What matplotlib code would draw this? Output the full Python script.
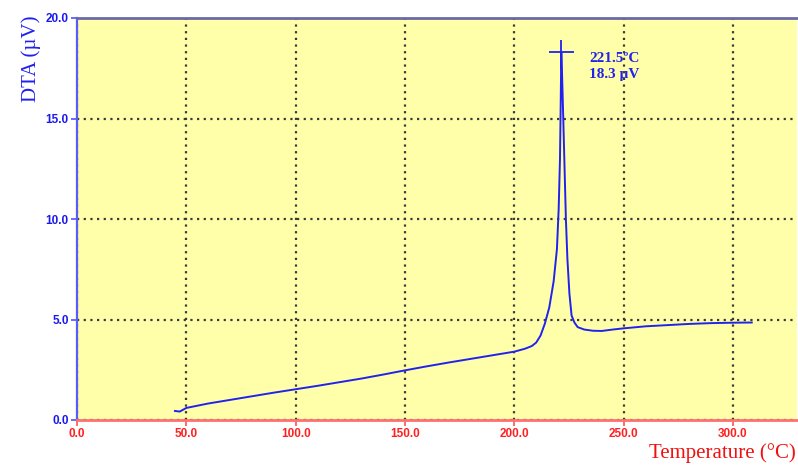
import matplotlib
matplotlib.use("Agg")
import matplotlib.pyplot as plt

# Data
temperature = [44.8, 47, 50, 60, 70, 80, 90, 100, 110, 120, 130, 140, 150, 160, 170, 180,
               190, 200, 205, 208, 210, 212, 214, 216, 218, 219.5, 220.3, 220.9, 221.2,
               221.5, 221.9, 222.4, 223, 223.6, 224.3, 225.2, 226.2, 227.5, 229, 232, 236,
               240, 245, 250, 260, 270, 280, 290, 300, 308.6]
dta = [0.45, 0.42, 0.6, 0.82, 1.0, 1.18, 1.36, 1.53, 1.7, 1.88, 2.06, 2.26, 2.47, 2.67, 2.86,
       3.04, 3.22, 3.4, 3.55, 3.68, 3.85, 4.2, 4.8, 5.6, 6.9, 8.5, 10.5, 13.0, 15.5,
       18.3, 17.0, 15.0, 12.5, 10.0, 8.0, 6.3, 5.2, 4.85, 4.62, 4.5, 4.44,
       4.43, 4.5, 4.56, 4.66, 4.72, 4.78, 4.82, 4.84, 4.85]
peak_t, peak_v = 221.5, 18.3
xticks = [0, 50, 100, 150, 200, 250, 300]
yticks = [0, 5, 10, 15, 20]

fig = plt.figure(figsize=(7.98, 4.66), dpi=100)
ax = fig.add_axes([77/798, 46/466, 720/798, 402/466])
ax.set_facecolor('#FFFFAA')

ax.plot(temperature, dta, color='#2222EE', lw=1.4, zorder=3)
ax.plot([peak_t], [peak_v], marker='+', markersize=18, mew=1.3, color='#2222EE', zorder=4)
ax.text(peak_t + 12.8, peak_v + 0.0, f"{peak_t:.1f}ºC\n{peak_v:.1f} µV",
        color='#2222EE', fontsize=11, fontweight='bold', family='Liberation Serif',
        va='top', ha='left', linespacing=1.25)

ax.set_xlim(0, 329.3)
ax.set_ylim(0, 20)
ax.set_xticks(xticks)
ax.set_yticks(yticks)
ax.set_xticklabels([f"{v:.1f}" for v in xticks])
ax.set_yticklabels([f"{v:.1f}" for v in yticks])
for lab in ax.get_xticklabels():
    lab.set_fontfamily('Liberation Sans'); lab.set_fontweight('bold'); lab.set_fontsize(8.5)
    lab.set_color('#FF2020')
for lab in ax.get_yticklabels():
    lab.set_fontfamily('Liberation Sans'); lab.set_fontweight('bold'); lab.set_fontsize(8.5)
    lab.set_color('#1A1AF0')
ax.tick_params(axis='x', colors='#FF5050', length=4, width=1.2, pad=2, labelcolor='#FF2020')
ax.tick_params(axis='y', colors='#5050FF', length=4, width=1.2, pad=2, labelcolor='#1A1AF0')

ax.grid(True, color='#3a3a3a', linestyle=(0, (1, 2)), linewidth=1.6, zorder=1)
ax.set_axisbelow(True)

ax.spines['right'].set_visible(False)
ax.spines['bottom'].set_color('#FF7070')
ax.spines['bottom'].set_linewidth(2.0)
ax.spines['left'].set_color('#5A5AFF')
ax.spines['left'].set_linewidth(1.6)
ax.spines['top'].set_color('#6A6AA8')
ax.spines['top'].set_linewidth(2.0)

fig.text(31/798, 1 - 59/466, "DTA (µV)", rotation=90, ha='center', va='center',
         color='#2020F0', fontsize=15, family='Liberation Serif')
fig.text(796/798, 3/466, "Temperature (°C)", ha='right', va='bottom',
         color='#F01010', fontsize=15, family='Liberation Serif')

fig.savefig('out.png', dpi=100, facecolor='white')
